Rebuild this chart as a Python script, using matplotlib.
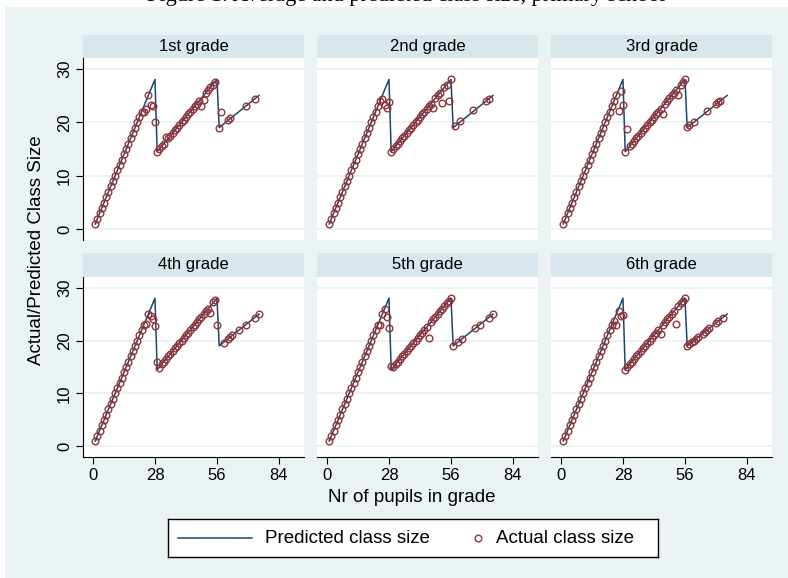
import matplotlib.pyplot as plt
from matplotlib.patches import Rectangle

plt.rcParams['font.family'] = ['Liberation Sans', 'DejaVu Sans']

W, H = 788, 578
BG = '#EAF2F3'
STRIP = '#D9E6EB'
NAVY = '#1A476F'
MAROON = '#90353B'

# predicted class size (rule of 28): vertices of the sawtooth
pred_n = [1, 28, 29, 56, 57, 75]
pred_y = [1, 28, 14.5, 28, 19, 25]

# actual average class size by enrolment, one list pair per grade
g1_n = [1, 2, 3, 4, 5, 6, 7, 8, 9, 10, 11, 12, 13, 14, 15, 16, 17, 18, 19, 20, 21,
        22, 23, 24, 25, 26, 27, 28,
        29, 30, 31, 32, 33, 34, 35, 36, 37, 38, 39, 40, 41, 42, 43, 44, 45, 46, 47, 48,
        49, 50, 51, 52, 53, 54, 55,
        57, 58, 61, 62, 69, 73]
g1_y = [1, 2, 3, 4, 5, 6, 7, 8, 9, 10, 11, 12, 13, 14, 15, 16, 17, 18, 19, 20, 21,
        22, 22, 22.5, 25, 23.2, 23, 20,
        14.5, 15, 15.5, 16, 17.3, 17, 17.5, 18, 18.5, 19, 19.5, 20, 20.5, 21, 21.5, 22, 22.5, 23, 23.5, 24,
        23.1, 24.1, 25.5, 26, 26.5, 27, 27.5,
        19, 21.9, 20.4, 20.7, 23, 24.3]

g2_n = [1, 2, 3, 4, 5, 6, 7, 8, 9, 10, 11, 12, 13, 14, 15, 16, 17, 18, 19, 20, 21, 22, 23,
        24, 25, 26, 27, 28,
        29, 30, 31, 32, 33, 34, 35, 36, 37, 38, 39, 40, 41, 42, 43, 44, 45, 46, 47,
        48, 49, 50, 51, 52, 53, 54, 55, 56,
        58, 60, 66, 72, 73]
g2_y = [1, 2, 3, 4, 5, 6, 7, 8, 9, 10, 11, 12, 13, 14, 15, 16, 17, 18, 19, 20, 21, 22, 23,
        24, 24.3, 23.3, 22.7, 23.8,
        14.5, 15, 15.5, 16, 16.5, 17, 17.5, 18, 18.5, 19, 19.5, 20, 20.5, 21, 21.5, 22, 22.5, 23, 23.5,
        22.7, 24.5, 25, 25.5, 23.6, 26.5, 27, 24, 28,
        19.3, 20.2, 22.2, 24, 24.4]

g3_n = [1, 2, 3, 4, 5, 6, 7, 8, 9, 10, 11, 12, 13, 14, 15, 16, 17, 18, 19, 20, 21, 22, 23, 24, 25,
        26, 27, 28, 29, 30,
        31, 32, 33, 34, 35, 36, 37, 38, 39, 40, 41, 42, 43, 44, 45,
        46, 47, 48, 49, 50, 51, 52, 53, 54, 55, 56,
        57, 58, 60, 66, 70, 71, 72]
g3_y = [1, 2, 3, 4, 5, 6, 7, 8, 9, 10, 11, 12, 13, 14, 15, 16, 17, 18, 19, 20, 21, 22, 23, 24, 25,
        22.1, 25.8, 23.3, 14.5, 18.8,
        15.5, 16, 16.5, 17, 17.5, 18, 18.5, 19, 19.5, 20, 20.5, 21, 21.5, 22, 22.5,
        21.6, 23.5, 24, 24.5, 25, 25.5, 26, 25, 27, 27.5, 28,
        19.1, 19.4, 20.1, 22.1, 23.4, 23.8, 24]

g4_n = [1, 2, 3, 4, 5, 6, 7, 8, 9, 10, 11, 12, 13, 14, 15, 16, 17, 18, 19, 20, 21, 22,
        23, 24, 25, 26, 27, 28, 29,
        30, 31, 32, 33, 34, 35, 36, 37, 38, 39, 40, 41, 42, 43, 44, 45, 46, 47, 48, 49, 50, 51, 52,
        53, 54, 55, 56,
        59, 61, 62, 63, 66, 69, 73, 75]
g4_y = [1, 2, 3, 4, 5, 6, 7, 8, 9, 10, 11, 12, 13, 14, 15, 16, 17, 18, 19, 20, 21, 22,
        23, 23.1, 25, 24.7, 24.1, 22.8, 15.9,
        14.9, 15.5, 16, 16.5, 17, 17.5, 18, 18.5, 19, 19.5, 20, 20.5, 21, 21.5, 22, 22.5, 23, 23.5, 24,
        24.5, 25, 25.5, 26,
        25.2, 27.3, 27.6, 22.9,
        19.5, 20.3, 20.7, 21, 22, 23, 24.3, 25]

g5_n = [1, 2, 3, 4, 5, 6, 7, 8, 9, 10, 11, 12, 13, 14, 15, 16, 17, 18, 19, 20, 21, 22, 23,
        24, 25, 26, 27, 28, 29, 30,
        31, 32, 33, 34, 35, 36, 37, 38, 39, 40, 41, 42, 43, 44, 45,
        46, 47, 48, 49, 50, 51, 52, 53, 54, 55, 56,
        57, 59, 61, 67, 69, 73, 75]
g5_y = [1, 2, 3, 4, 5, 6, 7, 8, 9, 10, 11, 12, 13, 14, 15, 16, 17, 18, 19, 20, 21, 22, 23,
        22.9, 25, 26, 24.4, 22.3, 15.2, 15,
        15.5, 16, 16.5, 17, 17.5, 18, 18.5, 19, 19.5, 20, 20.5, 21, 21.5, 22, 22.5,
        20.5, 23.5, 24, 24.5, 25, 25.5, 26, 26.5, 27, 27.5, 28,
        19, 19.7, 20.3, 22.3, 23, 24.3, 25]

g6_n = [1, 2, 3, 4, 5, 6, 7, 8, 9, 10, 11, 12, 13, 14, 15, 16, 17, 18, 19, 20, 21, 22, 23,
        24, 25, 26, 27, 28, 29,
        30, 31, 32, 33, 34, 35, 36, 37, 38, 39, 40, 41, 42, 43, 44,
        45, 46, 47, 48, 49, 50, 51, 52, 53, 54, 55, 56,
        57, 58, 59, 60, 61, 62, 64, 65, 66, 67, 70, 71, 73]
g6_y = [1, 2, 3, 4, 5, 6, 7, 8, 9, 10, 11, 12, 13, 14, 15, 16, 17, 18, 19, 20, 21, 22, 23,
        23.6, 22.9, 25.6, 24.7, 24.9, 14.5,
        15, 15.5, 16, 16.5, 17, 17.5, 18, 18.5, 19, 19.5, 20, 20.5, 21, 21.5, 22,
        21.3, 23, 23.5, 24, 24.5, 25, 25.5, 23.2, 26.5, 27, 27.5, 28,
        19, 19.3, 19.7, 20, 20.3, 20.7, 21.3, 21.7, 22, 22.3, 23.3, 23.7, 24.3]

grades = ['1st grade', '2nd grade', '3rd grade', '4th grade', '5th grade', '6th grade']
actual = [(g1_n, g1_y), (g2_n, g2_y), (g3_n, g3_y),
          (g4_n, g4_y), (g5_n, g5_y), (g6_n, g6_y)]


def px_box(x0, y0, x1, y1):
    # pixel box (top-left origin) -> figure fraction rect
    return [x0 / W, 1 - y1 / H, (x1 - x0) / W, (y1 - y0) / H]


fig = plt.figure(figsize=(W / 100, H / 100), dpi=100)
fig.patch.set_facecolor('white')
fig.patches.append(Rectangle((5 / W, 0), 1, (H - 7) / H, transform=fig.transFigure,
                             facecolor=BG, edgecolor='none', zorder=-2))

fig.text(406 / W, 1 - 1.0 / H, 'Figure 1: Average and predicted class size, primary school',
         family='Liberation Serif', fontsize=16, ha='center', va='baseline')

col_left = [83, 317, 551]
panel_w = 221
strips = [(35, 58), (253, 277)]
plots = [(58, 240), (277, 457)]

for i, (label, (n, y)) in enumerate(zip(grades, actual)):
    r, c = divmod(i, 3)
    x0 = col_left[c]
    s0, s1 = strips[r]
    p0, p1 = plots[r]

    fig.patches.append(Rectangle((x0 / W, 1 - s1 / H), panel_w / W, (s1 - s0) / H,
                                 transform=fig.transFigure, facecolor=STRIP,
                                 edgecolor='none', zorder=-1))
    fig.text((x0 + panel_w / 2) / W, 1 - (s0 + s1) / 2 / H, label,
             fontsize=12, ha='center', va='center')

    ax = fig.add_axes(px_box(x0, p0, x0 + panel_w, p1))
    ax.set_zorder(2)
    ax.set_facecolor('white')
    for g in [0, 10, 20, 30]:
        ax.axhline(g, color=BG, lw=1.3, zorder=0)
    ax.plot(pred_n, pred_y, color=NAVY, lw=1.1, zorder=2)
    ax.plot(n, y, 'o', mfc='none', mec=MAROON, ms=4.8, mew=1.0, zorder=3)

    ax.set_xlim(-4.5, 95.3)
    ax.set_ylim(-2, 32)
    for side in ['top', 'right', 'left', 'bottom']:
        ax.spines[side].set_visible(False)

    if c == 0:
        ax.spines['left'].set_visible(True)
        ax.spines['left'].set_color('black')
        ax.set_yticks([0, 10, 20, 30])
        ax.set_yticklabels(['0', '10', '20', '30'], rotation=90, va='center')
        ax.tick_params(axis='y', length=5, width=0.8, labelsize=12, pad=3)
    else:
        ax.set_yticks([])
    if r == 1:
        ax.spines['bottom'].set_visible(True)
        ax.spines['bottom'].set_color('black')
        ax.set_xticks([0, 28, 56, 84])
        ax.tick_params(axis='x', length=5, width=0.8, labelsize=12, pad=3)
    else:
        ax.set_xticks([])

fig.text(37 / W, 1 - 250 / H, 'Actual/Predicted Class Size', rotation=90,
         fontsize=13.5, ha='center', va='center')
fig.text(412 / W, 1 - 497 / H, 'Nr of pupils in grade', fontsize=13.5,
         ha='center', va='center')

# legend box drawn in its own pixel-scaled axes
lg = fig.add_axes(px_box(168, 519, 658, 557))
lg.set_zorder(2)
lg.set_xlim(168, 658)
lg.set_ylim(557, 519)
lg.set_xticks([])
lg.set_yticks([])
lg.set_facecolor('white')
for sp in lg.spines.values():
    sp.set_color('black')
    sp.set_linewidth(1.0)
lg.plot([178, 252], [538, 538], color=NAVY, lw=1.1)
lg.text(265, 538.5, 'Predicted class size', fontsize=13.5, va='center', ha='left')
lg.plot([478], [538], 'o', mfc='none', mec=MAROON, ms=4.8, mew=1.0)
lg.text(496, 538.5, 'Actual class size', fontsize=13.5, va='center', ha='left')

fig.savefig('out.png', dpi=100)
